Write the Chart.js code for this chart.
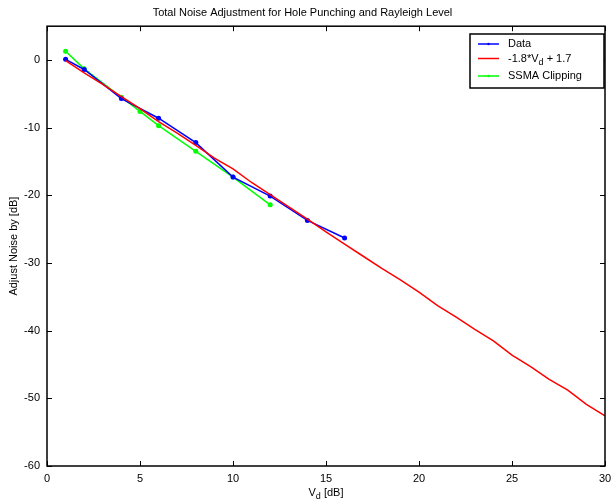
<!DOCTYPE html>
<html>
<head>
<meta charset="utf-8">
<script src="https://cdn.jsdelivr.net/npm/chart.js@4.4.1/dist/chart.umd.min.js"></script>
<style>
  html, body { margin: 0; padding: 0; background: #fff; }
  #wrap { width: 611px; height: 504px; }
</style>
</head>
<body>
<div id="wrap"><canvas id="noiseChart" width="611" height="504"></canvas></div>
<script>
// datos
const dataX = [1, 2, 4, 6, 8, 10, 12, 14, 16];
const dataY = [0.1, -1.4, -5.7, -8.6, -12.2, -17.3, -20.1, -23.7, -26.3];

const fitX = [1, 2, 3, 4, 5, 6, 7, 8, 9, 10, 11, 12, 13, 14, 15, 16, 17, 18, 19, 20, 21, 22, 23, 24, 25, 26, 27, 28, 29, 30];
const fitY = [-0.1, -1.9, -3.6, -5.4, -7.2, -9.1, -10.8, -12.6, -14.5, -16.1, -18.1, -19.9, -21.7, -23.5, -25.4,
              -27.2, -29.0, -30.8, -32.5, -34.3, -36.3, -38.0, -39.8, -41.5, -43.6, -45.3, -47.2, -48.8, -50.9, -52.6];

const ssmaX = [1, 2, 4, 5, 6, 8, 10, 12];
const ssmaY = [1.3, -1.3, -5.5, -7.6, -9.7, -13.5, -17.3, -21.4];

const xTicks = [0, 5, 10, 15, 20, 25, 30];
const yTicks = [-60, -50, -40, -30, -20, -10, 0];

const toPoints = (xs, ys) => xs.map((x, i) => ({ x: x, y: ys[i] }));
const FONT = 'Liberation Sans, Arial, sans-serif';

// caja, marcas hacia dentro, leyenda y titulo del eje x
const matlabBox = {
    id: 'matlabBox',
    afterDraw(chart) {
        const ctx = chart.ctx;
        const a = chart.chartArea;
        const xs = chart.scales.x;
        const ys = chart.scales.y;
        ctx.save();
        ctx.strokeStyle = '#000';
        ctx.lineWidth = 1.5;
        ctx.strokeRect(a.left, a.top, a.right - a.left, a.bottom - a.top);

        ctx.lineWidth = 1;
        ctx.beginPath();
        xTicks.forEach(v => {
            const px = Math.round(xs.getPixelForValue(v)) + 0.5;
            ctx.moveTo(px, a.bottom); ctx.lineTo(px, a.bottom - 5);
            ctx.moveTo(px, a.top); ctx.lineTo(px, a.top + 5);
        });
        yTicks.forEach(v => {
            const py = Math.round(ys.getPixelForValue(v)) + 0.5;
            ctx.moveTo(a.left, py); ctx.lineTo(a.left + 5, py);
            ctx.moveTo(a.right, py); ctx.lineTo(a.right - 5, py);
        });
        ctx.stroke();

        // titulo eje x con subindice
        ctx.fillStyle = '#000';
        ctx.textBaseline = 'alphabetic';
        ctx.font = '11px ' + FONT;
        const cx = (a.left + a.right) / 2;
        const w1 = ctx.measureText('V').width;
        ctx.font = '9px ' + FONT;
        const w2 = ctx.measureText('d').width;
        ctx.font = '11px ' + FONT;
        const w3 = ctx.measureText(' [dB]').width;
        let sx = cx - (w1 + w2 + w3) / 2;
        const by = 496;
        ctx.textAlign = 'left';
        ctx.fillText('V', sx, by);
        ctx.font = '9px ' + FONT;
        ctx.fillText('d', sx + w1, by + 3);
        ctx.font = '11px ' + FONT;
        ctx.fillText(' [dB]', sx + w1 + w2, by);

        // leyenda
        const lx = 470, ly = 34, lw = 134, lh = 54;
        ctx.fillStyle = '#fff';
        ctx.fillRect(lx, ly, lw, lh);
        ctx.strokeStyle = '#000';
        ctx.lineWidth = 1.5;
        ctx.strokeRect(lx, ly, lw, lh);
        const rows = [44, 58.5, 76];
        chart.data.datasets.forEach((ds, i) => {
            const y = rows[i];
            ctx.strokeStyle = ds.borderColor;
            ctx.lineWidth = 1.5;
            ctx.beginPath();
            ctx.moveTo(478, y); ctx.lineTo(499, y);
            ctx.stroke();
            if (ds.pointRadius > 0) {
                ctx.fillStyle = ds.borderColor;
                ctx.beginPath();
                ctx.arc(488.5, y, 1.2, 0, Math.PI * 2);
                ctx.fill();
            }
            ctx.fillStyle = '#000';
            ctx.font = '11px ' + FONT;
            ctx.textBaseline = 'middle';
            if (i === 1) {
                let tx = 508;
                ctx.fillText('-1.8*V', tx, y);
                tx += ctx.measureText('-1.8*V').width;
                ctx.font = '9px ' + FONT;
                ctx.fillText('d', tx, y + 4);
                tx += ctx.measureText('d').width;
                ctx.font = '11px ' + FONT;
                ctx.fillText(' + 1.7', tx, y);
            } else {
                ctx.fillText(ds.label, 508, y);
            }
        });
        ctx.restore();
    }
};

const ctx = document.getElementById('noiseChart').getContext('2d');
const chart = new Chart(ctx, {
    type: 'line',
    data: {
        datasets: [{
            label: 'Data',
            data: toPoints(dataX, dataY),
            borderColor: '#0000ff',
            backgroundColor: '#0000ff',
            borderWidth: 1.5,
            pointRadius: 2.5,
            pointBorderWidth: 0,
            order: 1
        }, {
            label: '-1.8*Vd + 1.7',
            data: toPoints(fitX, fitY),
            borderColor: '#ff0000',
            backgroundColor: '#ff0000',
            borderWidth: 1.5,
            pointRadius: 0,
            order: 0
        }, {
            label: 'SSMA Clipping',
            data: toPoints(ssmaX, ssmaY),
            borderColor: '#00ff00',
            backgroundColor: '#00ff00',
            borderWidth: 1.5,
            pointRadius: 2.5,
            pointBorderWidth: 0,
            order: 2
        }]
    },
    options: {
        responsive: false,
        animation: false,
        layout: { padding: { left: 0, right: 6, top: 0, bottom: 0 } },
        plugins: {
            legend: { display: false },
            tooltip: { enabled: false },
            title: {
                display: true,
                text: 'Total Noise Adjustment for Hole Punching and Rayleigh Level',
                color: '#000',
                font: { family: FONT, size: 11, weight: 'normal' },
                padding: { top: 6, bottom: 7 }
            }
        },
        scales: {
            x: {
                type: 'linear',
                min: 0,
                max: 30,
                afterBuildTicks: s => { s.ticks = xTicks.map(v => ({ value: v })); },
                afterFit: s => { s.height = 38; s.paddingLeft = 0; s.paddingRight = 0; },
                grid: { display: false, drawTicks: false },
                border: { display: false },
                ticks: { color: '#000', padding: 6, maxRotation: 0, font: { family: FONT, size: 11 } }
            },
            y: {
                type: 'linear',
                min: -60,
                max: 5,
                afterBuildTicks: s => { s.ticks = yTicks.map(v => ({ value: v })); },
                afterFit: s => { s.width = 47; s.paddingTop = 0; s.paddingBottom = 0; },
                grid: { display: false, drawTicks: false },
                border: { display: false },
                ticks: { color: '#000', padding: 7, font: { family: FONT, size: 11 } },
                title: {
                    display: true,
                    text: 'Adjust Noise by [dB]',
                    color: '#000',
                    font: { family: FONT, size: 11 },
                    padding: { top: 7, bottom: 0 }
                }
            }
        }
    },
    plugins: [matlabBox]
});
</script>
</body>
</html>
